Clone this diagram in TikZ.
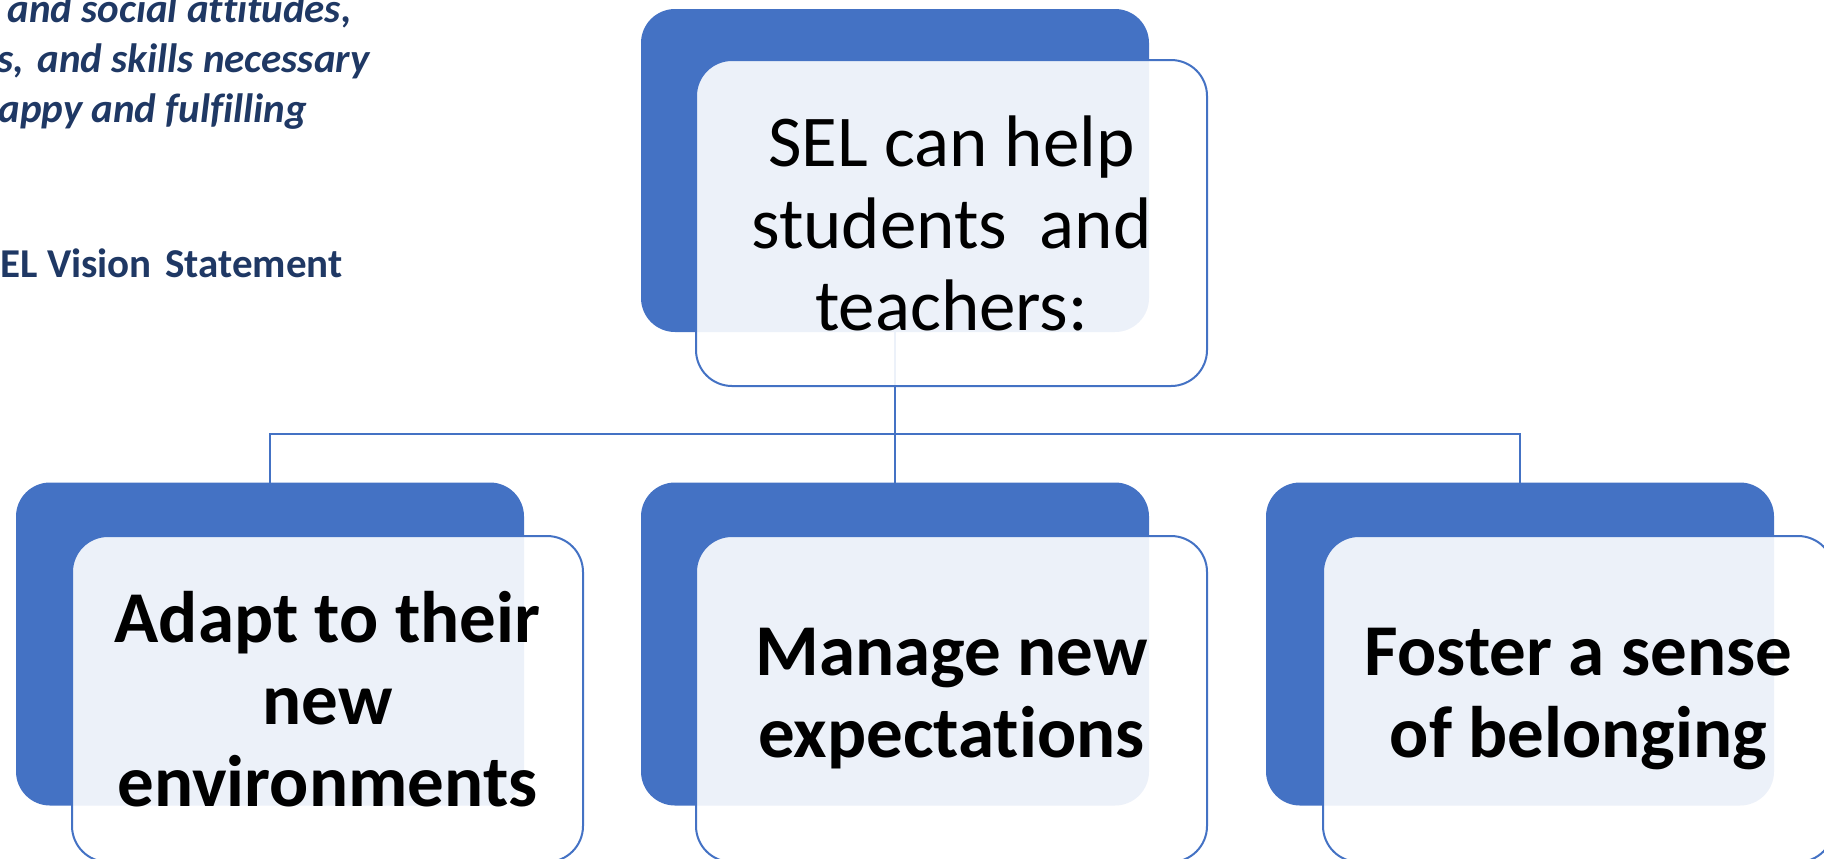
\documentclass[tikz,border=0pt]{standalone}
\usepackage{fontspec}
\setmainfont{Carlito}[Ligatures=NoCommon, RawFeature={-liga;-clig;-dlig}]
\definecolor{accent}{HTML}{4472C4}
\definecolor{navy}{HTML}{1F3864}
\begin{document}
\begin{tikzpicture}[x=0.5pt,y=-0.5pt,
  backbox/.style={rectangle, rounded corners=17pt, fill=accent, inner sep=0pt, outer sep=0pt,
    minimum width=254pt, minimum height=161.5pt},
  frontbox/.style={rectangle, rounded corners=18pt, draw=accent, line width=1pt, fill=white,
    fill opacity=0.9, text opacity=1, inner sep=0pt, outer sep=0pt,
    minimum width=255.5pt, minimum height=163pt, align=center, text=black},
  regtext/.style={font=\fontsize{36.5}{41}\selectfont},
  boldtext/.style={font=\fontsize{36.5}{41}\selectfont\bfseries},
  link/.style={draw=accent, line width=1pt},
  vision/.style={anchor=base west, text=navy, inner sep=0pt, font=\fontsize{20.5}{25}\selectfont\bfseries\itshape},
  visiontitle/.style={anchor=base west, text=navy, inner sep=0pt, font=\fontsize{20.5}{25}\selectfont\bfseries}
]
\useasboundingbox (0,0) rectangle (1824,858);
\clip (0,0) rectangle (1824,858);

% top-left quote (cut off at the left edge)
\node[vision] (q1) at (7,22) {and social attitudes,};
\node[vision] (q2) at (-3,72) {s,\hspace{0.1em} and skills necessary};
\node[vision] (q3) at (-2,122) {appy and fulfilling};
\node[visiontitle] (q4) at (0,277) {EL Vision\hspace{0.1em} Statement};

% back boxes
\node[backbox] (topback) at (895,170.5) {};
\node[backbox] (leftback) at (270,644) {};
\node[backbox] (midback) at (895,644) {};
\node[backbox] (rightback) at (1520,644) {};

% connectors
\coordinate (busL) at (270,434);
\draw[link] (topback.south) -- (midback.north);
\draw[link] (leftback.north) -- (leftback.north |- busL) -- (rightback.north |- busL) -- (rightback.north);

% front boxes
\node[frontbox, regtext] (topfront) at (951.5,223) {SEL can help\\students\hspace{0.45em}and\\teachers:};
\node[frontbox, boldtext] (leftfront) at (327.5,699) {Adapt to their\\new\\environments};
\node[frontbox, boldtext] (midfront) at (951.5,699) {Manage new\\expectations};
\node[frontbox, boldtext] (rightfront) at (1578.5,699) {Foster a sense\\of belonging};
\end{tikzpicture}
\end{document}
